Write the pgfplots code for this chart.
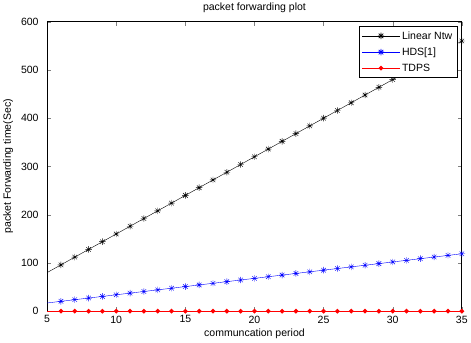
\documentclass[border=0pt]{standalone}
\usepackage{pgfplots}
\pgfplotsset{compat=1.18}
\usepackage{fontspec}
\setmainfont{Liberation Sans}
\pgfdeclareplotmark{mstar}{%
  \pgfpathmoveto{\pgfqpoint{-\pgfplotmarksize}{0pt}}\pgfpathlineto{\pgfqpoint{\pgfplotmarksize}{0pt}}%
  \pgfpathmoveto{\pgfqpoint{0pt}{-\pgfplotmarksize}}\pgfpathlineto{\pgfqpoint{0pt}{\pgfplotmarksize}}%
  \pgfpathmoveto{\pgfqpoint{-.707\pgfplotmarksize}{-.707\pgfplotmarksize}}\pgfpathlineto{\pgfqpoint{.707\pgfplotmarksize}{.707\pgfplotmarksize}}%
  \pgfpathmoveto{\pgfqpoint{-.707\pgfplotmarksize}{.707\pgfplotmarksize}}\pgfpathlineto{\pgfqpoint{.707\pgfplotmarksize}{-.707\pgfplotmarksize}}%
  \pgfusepathqstroke}
\begin{document}
\begin{tikzpicture}
\begin{axis}[
  scale only axis, width=414pt, height=289pt,
  xmin=5, xmax=35, ymin=0, ymax=600,
  xtick={5,10,...,35}, ytick={0,100,...,600},
  tick align=inside, tick pos=both,
  major tick length=4pt,
  font=\fontsize{10.5}{12}\selectfont,
  /pgf/number format/assume math mode=true,
  yticklabel style={xshift=-5pt},
  xticklabel style={yshift=-1pt},
  title={packet forwarding plot},
  title style={yshift=-1pt},
  xlabel={communcation period},
  ylabel={packet Forwarding time(Sec)},
  xlabel style={yshift=1pt},
  ylabel style={yshift=1pt},
  axis line style={line width=0.8pt},
  legend style={at={(0.99,0.985)}, anchor=north east, draw=black, line width=0.7pt,
    font=\fontsize{10.5}{12}\selectfont, row sep=3pt, inner sep=3pt},
  legend cell align=left,
  legend image code/.code={\draw[#1, mark=none] (0cm,0cm) -- (1.3cm,0cm); \draw[#1, mark phase=1, mark repeat=1] plot coordinates {(0.65cm,0cm)};},
  clip=false,
]
\addplot[color=black, mark=mstar, mark size=3.2pt, mark phase=2] coordinates {
(5,80)(6,96)(7,112)(8,128)(9,144)(10,160)(11,176)(12,192)(13,208)(14,224)(15,240)
(16,256)(17,272)(18,288)(19,304)(20,320)(21,336)(22,352)(23,368)(24,384)(25,400)
(26,416)(27,432)(28,448)(29,464)(30,480)(31,496)(32,512)(33,528)(34,544)(35,560)};
\addlegendentry{Linear Ntw}
\addplot[color=blue, mark=mstar, mark size=3.2pt, mark phase=2] coordinates {
(5,17)(6,20.4)(7,23.8)(8,27.2)(9,30.6)(10,34)(11,37.4)(12,40.8)(13,44.2)(14,47.6)(15,51)
(16,54.4)(17,57.8)(18,61.2)(19,64.6)(20,68)(21,71.4)(22,74.8)(23,78.2)(24,81.6)(25,85)
(26,88.4)(27,91.8)(28,95.2)(29,98.6)(30,102)(31,105.4)(32,108.8)(33,112.2)(34,115.6)(35,119)};
\addlegendentry{HDS[1]}
\addplot[color=red, line width=1pt, mark=*, mark size=1.8pt, mark phase=2] coordinates {
(5,0)(6,0)(7,0)(8,0)(9,0)(10,0)(11,0)(12,0)(13,0)(14,0)(15,0)
(16,0)(17,0)(18,0)(19,0)(20,0)(21,0)(22,0)(23,0)(24,0)(25,0)
(26,0)(27,0)(28,0)(29,0)(30,0)(31,0)(32,0)(33,0)(34,0)(35,0)};
\addlegendentry{TDPS}
\end{axis}
\end{tikzpicture}
\end{document}
